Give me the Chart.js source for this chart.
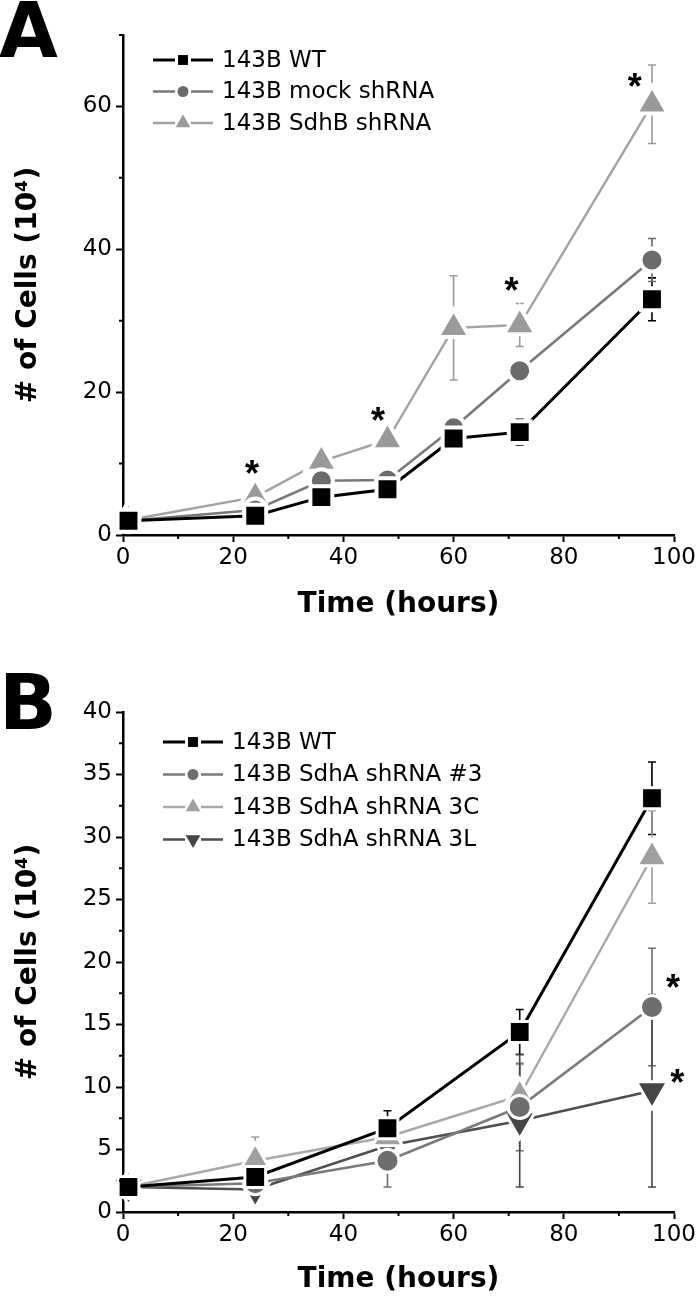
<!DOCTYPE html>
<html><head><meta charset="utf-8">
<script src="https://cdn.jsdelivr.net/npm/chart.js@4.4.1/dist/chart.umd.min.js"></script>
<style>
html,body{margin:0;padding:0;background:#fff;}
#wrap{position:relative;width:700px;height:1300px;background:#fff;}
canvas{position:absolute;left:0;}
</style></head><body>
<div id="wrap">
<canvas id="cA" width="700" height="650" style="top:0"></canvas>
<canvas id="cB" width="700" height="650" style="top:650px"></canvas>
</div>
<script>
const FONT = '"DejaVu Sans", "Liberation Sans", Arial, sans-serif';
const STARFONT = '"Liberation Sans", Arial, sans-serif';

// ---------- Panel A data ----------
const timesA = [1, 24, 36, 48, 60, 72, 96];
const wtA = [2.0, 2.7, 5.3, 6.4, 13.5, 14.4, 33.0];
const wtErrA = [0.3, 0.4, 0.5, 0.6, 0.6, 1.8, 3.0];
const mockA = [2.0, 3.5, 7.6, 7.7, 15.0, 23.0, 38.5];
const mockErrA = [0.3, 0.5, 1.0, 1.5, 0.8, 1.5, 3.0];
const sdhbA = [2.1, 5.3, 10.3, 13.3, 29.0, 29.4, 60.3];
const sdhbErrA = [0.3, 0.8, 0.5, 0.8, 7.3, 3.0, 5.5];
const labelsA = ['143B WT', '143B mock shRNA', '143B SdhB shRNA'];
const starXA = [23.4, 46.3, 70.5, 92.9];
const starYA = [9.6, 17.1, 35.3, 63.8];
const yTicksA = [0, 20, 40, 60];
const yMinorA = [10, 30, 50, 70];

// ---------- Panel B data ----------
const timesB = [1, 24, 48, 72, 96];
const wtB = [2.0, 2.8, 6.7, 14.4, 33.1];
const wtErrB = [0.3, 0.5, 1.4, 1.8, 2.9];
const sh3B = [2.0, 2.3, 4.1, 8.4, 16.4];
const sh3ErrB = [0.3, 0.4, 2.1, 3.5, 4.7];
const sh3cB = [2.0, 4.1, 6.0, 9.3, 28.4];
const sh3cErrB = [0.3, 1.9, 1.0, 2.5, 3.7];
const sh3lB = [2.0, 1.8, 5.3, 7.3, 9.7];
const sh3lErrB = [0.3, 0.7, 1.5, 5.3, 7.7];
const labelsB = ['143B WT', '143B SdhA shRNA #3', '143B SdhA shRNA 3C', '143B SdhA shRNA 3L'];
const starXB = [99.8, 100.6];
const starYB = [18.6, 11.0];
const yTicksB = [0, 5, 10, 15, 20, 25, 30, 35, 40];
const yMinorB = [2.5, 7.5, 12.5, 17.5, 22.5, 27.5, 32.5, 37.5];

// shared x axis
const xTicks = [0, 20, 40, 60, 80, 100];
const xMinor = [10, 30, 50, 70, 90];

function pts(xs, ys) { return xs.map((x, i) => ({ x: x, y: ys[i] })); }

// halo: white ring width around markers (gives the line gap look)
function ds(label, xs, ys, errs, fill, line, style, r, rot, lw, legR, halo) {
  return {
    label: label, data: pts(xs, ys), errors: errs,
    borderColor: line, backgroundColor: fill, borderWidth: lw,
    pointBackgroundColor: fill, pointBorderColor: '#ffffff', pointBorderWidth: halo,
    pointStyle: style, pointRadius: r, pointRotation: rot, pointHoverRadius: r,
    showLine: true, tension: 0, clip: false, legendRadius: legR, markerFill: fill
  };
}

function drawMarker(ctx, style, rot, r, x, y, color) {
  ctx.save();
  ctx.fillStyle = color;
  ctx.beginPath();
  if (style === 'rect') {
    const s = Math.SQRT1_2 * r;
    ctx.rect(x - s, y - s, 2 * s, 2 * s);
  } else if (style === 'circle') {
    ctx.arc(x, y, r, 0, Math.PI * 2);
  } else if (style === 'triangle') {
    let a = rot * Math.PI / 180;
    ctx.moveTo(x + Math.sin(a) * r, y - Math.cos(a) * r);
    a += 2 * Math.PI / 3;
    ctx.lineTo(x + Math.sin(a) * r, y - Math.cos(a) * r);
    a += 2 * Math.PI / 3;
    ctx.lineTo(x + Math.sin(a) * r, y - Math.cos(a) * r);
    ctx.closePath();
  }
  ctx.fill();
  ctx.restore();
}

const extrasPlugin = {
  id: 'extras',
  beforeDatasetsDraw(chart) {
    const ctx = chart.ctx, xs = chart.scales.x, ys = chart.scales.y;
    ctx.save();
    chart.data.datasets.forEach(d => {
      ctx.strokeStyle = d.markerFill;
      ctx.lineWidth = 1.6;
      d.data.forEach((p, i) => {
        const e = d.errors[i];
        if (!e) return;
        const x = xs.getPixelForValue(p.x);
        const yt = ys.getPixelForValue(p.y + e), yb = ys.getPixelForValue(p.y - e);
        ctx.beginPath();
        ctx.moveTo(x, yt); ctx.lineTo(x, yb);
        ctx.moveTo(x - 4, yt); ctx.lineTo(x + 4, yt);
        ctx.moveTo(x - 4, yb); ctx.lineTo(x + 4, yb);
        ctx.stroke();
      });
    });
    ctx.restore();
  },
  afterDraw(chart, args, o) {
    const ctx = chart.ctx, xs = chart.scales.x, ys = chart.scales.y, ca = chart.chartArea;
    ctx.save();
    // minor ticks
    ctx.strokeStyle = '#000'; ctx.lineWidth = 2;
    ctx.beginPath();
    xMinor.forEach(v => { const px = xs.getPixelForValue(v); ctx.moveTo(px, ca.bottom); ctx.lineTo(px, ca.bottom + 4); });
    o.yMinor.forEach(v => { const py = ys.getPixelForValue(v); ctx.moveTo(ca.left - 4, py); ctx.lineTo(ca.left, py); });
    ctx.stroke();
    // legend
    ctx.font = '23px ' + FONT;
    ctx.textBaseline = 'middle'; ctx.textAlign = 'left';
    chart.data.datasets.forEach((d, i) => {
      const y = o.legY + i * o.legDy;
      ctx.strokeStyle = d.borderColor; ctx.lineWidth = d.borderWidth;
      ctx.beginPath();
      ctx.moveTo(o.legX, y); ctx.lineTo(o.legX + 22, y);
      ctx.moveTo(o.legX + 38, y); ctx.lineTo(o.legX + 60, y);
      ctx.stroke();
      drawMarker(ctx, d.pointStyle, d.pointRotation, d.legendRadius, o.legX + 30, y, d.markerFill);
      ctx.fillStyle = '#000';
      ctx.fillText(d.label, o.legX + 69, y + 1);
    });
    // significance stars
    ctx.font = 'bold 36px ' + STARFONT;
    ctx.textAlign = 'center'; ctx.textBaseline = 'alphabetic'; ctx.fillStyle = '#000';
    o.starX.forEach((sx, i) => {
      const px = xs.getPixelForValue(sx), py = ys.getPixelForValue(o.starY[i]);
      ctx.fillText('*', px, py + 20);
    });
    // panel letter
    ctx.font = 'bold 76px ' + FONT;
    ctx.textAlign = 'left';
    ctx.fillText(o.letter, -1, o.letterBase);
    ctx.restore();
  }
};

function makeChart(id, datasets, c) {
  return new Chart(document.getElementById(id), {
    type: 'scatter',
    data: { datasets: datasets },
    options: {
      responsive: false, animation: false, devicePixelRatio: 1,
      layout: { padding: { top: c.padTop, right: 26, left: 0, bottom: 0 } },
      plugins: {
        legend: { display: false }, tooltip: { enabled: false },
        extras: c.extras
      },
      scales: {
        x: {
          type: 'linear', min: 0, max: 100, position: 'bottom',
          afterBuildTicks: s => { s.ticks = xTicks.map(v => ({ value: v })); },
          afterFit: s => { s.height = c.xHeight; },
          grid: { display: true, drawOnChartArea: false, drawTicks: true, tickLength: 7, tickWidth: 2, tickColor: '#000' },
          border: { display: true, color: '#000', width: 2.5 },
          ticks: { color: '#000', font: { family: FONT, size: 23 }, padding: 2, maxRotation: 0, autoSkip: false },
          title: { display: true, text: 'Time (hours)', color: '#000', font: { family: FONT, size: 28, weight: 'bold' }, padding: { top: 0, bottom: c.xTitlePad } }
        },
        y: {
          type: 'linear', min: 0, max: c.yMax, position: 'left',
          afterBuildTicks: s => { s.ticks = c.yTicks.map(v => ({ value: v })); },
          afterFit: s => { s.width = 123; },
          grid: { display: true, drawOnChartArea: false, drawTicks: true, tickLength: 7, tickWidth: 2, tickColor: '#000' },
          border: { display: true, color: '#000', width: 2.5 },
          ticks: { color: '#000', font: { family: FONT, size: 23 }, padding: 4, autoSkip: false },
          title: { display: true, text: '# of Cells (10\u2074)', color: '#000', font: { family: FONT, size: 28, weight: 'bold' }, padding: { top: 12, bottom: 0 } }
        }
      }
    },
    plugins: [extrasPlugin]
  });
}

makeChart('cA', [
  ds(labelsA[0], timesA, wtA, wtErrA, '#000000', '#000000', 'rect', 15.5, 0, 3, 7, 4),
  ds(labelsA[1], timesA, mockA, mockErrA, '#6b6b6b', '#787878', 'circle', 11.5, 0, 2.6, 5.5, 4),
  ds(labelsA[2], timesA, sdhbA, sdhbErrA, '#9a9a9a', '#a2a2a2', 'triangle', 18.4, 0, 2.4, 8.5, 4)
], {
  padTop: 35, xHeight: 115, xTitlePad: 28, yMax: 70, yTicks: yTicksA,
  extras: { yMinor: yMinorA, legX: 153, legY: 60, legDy: 31.5, starX: starXA, starY: starYA, letter: 'A', letterBase: 57 }
});

makeChart('cB', [
  ds(labelsB[0], timesB, wtB, wtErrB, '#000000', '#000000', 'rect', 14.7, 0, 3, 7, 3),
  ds(labelsB[1], timesB, sh3B, sh3ErrB, '#6e6e6e', '#7a7a7a', 'circle', 11.5, 0, 2.6, 5.5, 3),
  ds(labelsB[2], timesB, sh3cB, sh3cErrB, '#a0a0a0', '#a8a8a8', 'triangle', 17.4, 0, 2.4, 8.5, 3),
  ds(labelsB[3], timesB, sh3lB, sh3lErrB, '#454545', '#4e4e4e', 'triangle', 18, 180, 2.6, 8.5, 3)
], {
  padTop: 62, xHeight: 88, xTitlePad: 3, yMax: 40, yTicks: yTicksB,
  extras: { yMinor: yMinorB, legX: 163, legY: 92, legDy: 32.5, starX: starXB, starY: starYB, letter: 'B', letterBase: 79 }
});
</script>
</body></html>
